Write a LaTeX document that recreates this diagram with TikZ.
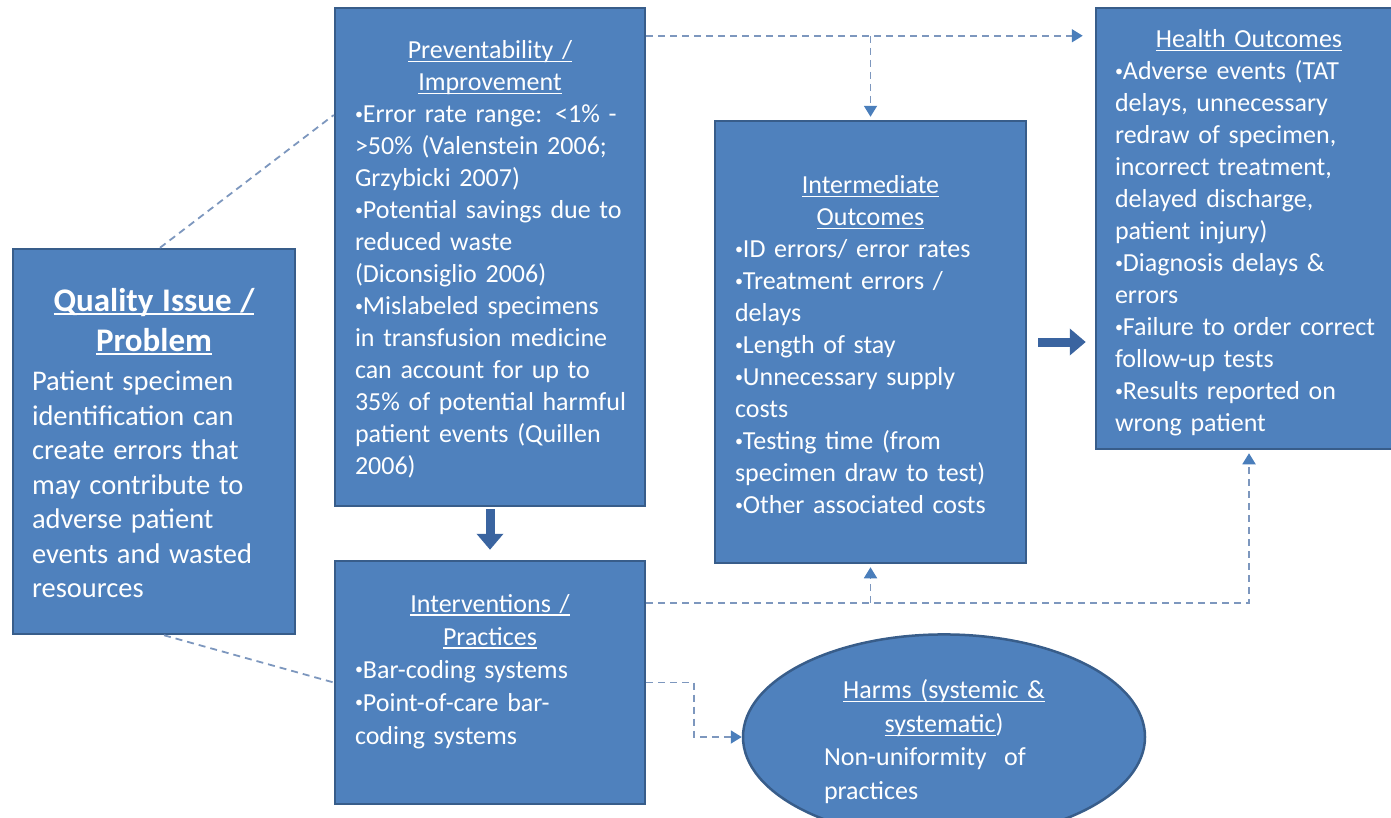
\documentclass[tikz,border=0pt]{standalone}
\usepackage{fontspec}
\setmainfont{Carlito}
\usetikzlibrary{arrows.meta,shapes.geometric,calc}

\definecolor{boxfill}{HTML}{4F81BD}
\definecolor{boxline}{HTML}{385D8A}
\definecolor{dashcol}{HTML}{7D97BE}
\definecolor{tipcol}{HTML}{4A7EBB}
\definecolor{fatcol}{HTML}{3A64A0}

% heading underline that runs through descenders, as in the slide style
\newlength{\hdrw}
\newcommand{\hdr}[1]{\settowidth{\hdrw}{#1}\makebox[0pt][l]{\rule[-3.5pt]{\hdrw}{1.4pt}}#1}
% body lines, broken by hand and never rewrapped
\newcommand{\bodytext}[1]{\begin{tabular}[t]{@{}l@{}}#1\end{tabular}}
% taller first line, to set the text block a little lower in its shape
\newcommand{\toppad}[1]{\rule{0pt}{\dimexpr0.75em+#1\relax}}
% small list bullet
\newcommand{\bul}{\raisebox{3.4pt}{\fontsize{16}{16}\selectfont•}}

\tikzset{
  box/.style={draw=boxline, line width=2.5pt, fill=boxfill, text=white,
    rectangle, align=left, inner sep=0pt, font=\fontsize{26}{32}\selectfont},
  oval/.style={box, ellipse, font=\fontsize{26}{33.5}\selectfont},
  dsh/.style={draw=dashcol, line width=1.8pt, dash pattern=on 7pt off 5pt},
  tipped/.style={-{Triangle[width=13pt,length=11pt,color=tipcol]}},
  fatarrow/.style={draw=fatcol, line width=9pt,
    -{Triangle[width=26pt,length=16pt,color=fatcol]}}
}

\begin{document}
\begin{tikzpicture}[x=1pt,y=-1pt]
\useasboundingbox (0,0) rectangle (1391,817);

% problem statement
\node[box, minimum width=282, minimum height=385, text width=244] (q) at (154,441.5)
{{\fontsize{33}{40}\selectfont\bfseries\centering\toppad{11.5pt}\hdr{Quality Issue /}\\\hdr{Problem}\par}
 \vspace{5pt}
 {\fontsize{28.5}{34.5}\selectfont\bodytext{Patient specimen\\identification can\\create errors that\\may contribute to\\adverse patient\\events and wasted\\resources}\par}};

% preventability
\node[box, minimum width=310, minimum height=498, text width=270] (prev) at (490,257)
{{\centering\toppad{10pt}\hdr{Preventability /}\\\hdr{Improvement}\par}
 \bodytext{\bul Error rate range: <1\% -\\>50\% (Valenstein 2006;\\Grzybicki 2007)\\\bul Potential savings due to\\reduced waste\\(Diconsiglio 2006)\\\bul Mislabeled specimens\\in transfusion medicine\\can account for up to\\35\% of potential harmful\\patient events (Quillen\\2006)}};

% interventions
\node[box, minimum width=310, minimum height=243, text width=270,
      font=\fontsize{26}{33}\selectfont] (int) at (490,682.5)
{{\centering\toppad{15pt}\hdr{Interventions /}\\\hdr{Practices}\par}
 \bodytext{\bul Bar-coding systems\\\bul Point-of-care bar-\\coding systems\\\mbox{}}};

% intermediate outcomes
\node[box, minimum width=311, minimum height=442, text width=271] (inter) at (870.5,342)
{{\centering\toppad{13pt}\hdr{Intermediate}\\\hdr{Outcomes}\par}
 \bodytext{\bul ID errors/ error rates\\\bul Treatment errors /\\delays\\\bul Length of stay\\\bul Unnecessary supply\\costs\\\bul Testing time (from\\specimen draw to test)\\\bul Other associated costs}};

% health outcomes
\node[box, minimum width=306, minimum height=441, text width=268] (health) at (1249,228.5)
{{\centering\toppad{12pt}\hdr{Health Outcomes}\par}
 \bodytext{\bul Adverse events (TAT\\delays, unnecessary\\redraw of specimen,\\incorrect treatment,\\delayed discharge,\\patient injury)\\\bul Diagnosis delays \&\\errors\\\bul Failure to order correct\\follow-up tests\\\bul Results reported on\\wrong patient}};

% harms
\node[oval, minimum width=402, minimum height=154, text width=240] (harm) at (944,737)
{{\centering\toppad{15pt}\hdr{Harms (systemic \&}\\\hdr{systematic})\par}
 \bodytext{Non-uniformity\ \ of\\practices}};

% links from the problem statement
\draw[dsh] ([xshift=6pt]q.north) -- ([yshift=142pt]prev.west);
\draw[dsh] ([xshift=10pt]q.south) -- (int.west);

% dashed flows
\coordinate (topline) at ([yshift=-29pt]prev.north east);
\draw[dsh, tipped, shorten >=12pt] (topline) -- (topline -| health.west);
\draw[dsh, tipped, shorten >=3pt] (topline -| inter.north) -- (inter.north);

\coordinate (midline) at ([yshift=-43pt]int.north east);
\draw[dsh, tipped, shorten >=3pt] (midline) -| (health.south);
\draw[dsh, tipped, shorten >=3pt] (midline -| inter.south) -- (inter.south);
\draw[dsh, tipped] (int.east) -- ++(48,0) |- (harm.west);

% block arrows
\draw[fatarrow, shorten <=2pt, shorten >=10pt] (prev.south) -- (int.north);
\draw[fatarrow, shorten <=11pt, shorten >=9pt] (inter.east) -- (inter.east -| health.west);
\end{tikzpicture}
\end{document}
